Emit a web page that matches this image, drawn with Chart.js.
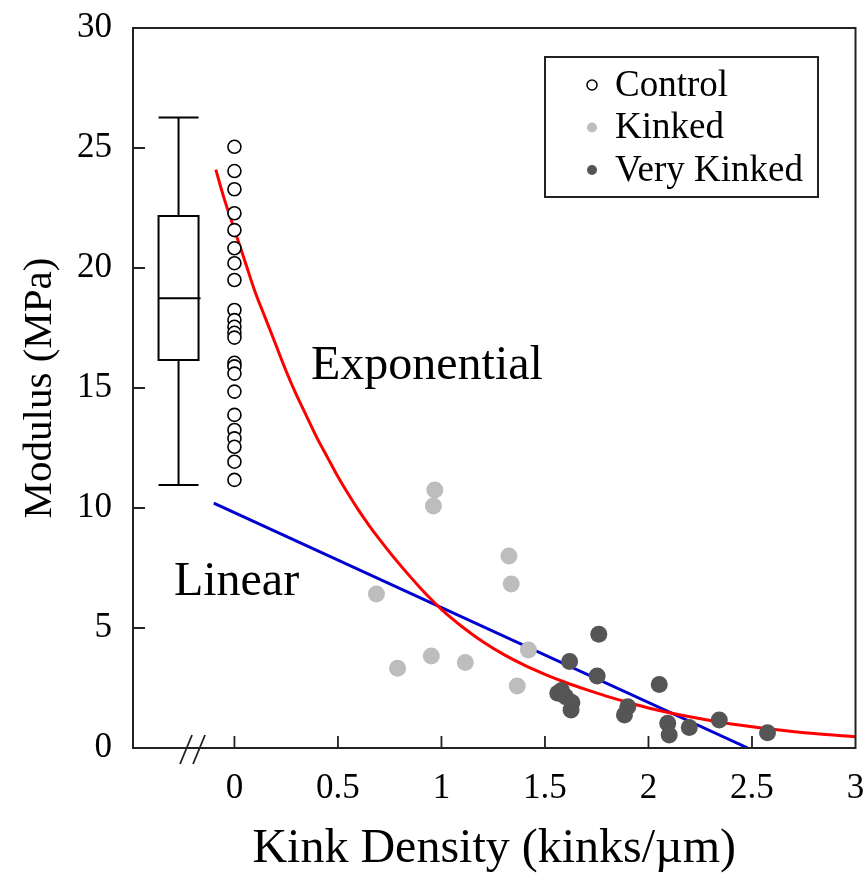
<!DOCTYPE html>
<html>
<head>
<meta charset="utf-8">
<script src="https://cdn.jsdelivr.net/npm/chart.js@4.4.1/dist/chart.umd.min.js"></script>
<style>
    html, body { margin: 0; padding: 0; background: #fff; }
    #wrap { width: 864px; height: 878px; }
</style>
</head>
<body>
<div id="wrap"><canvas id="modulusChart" width="864" height="878"></canvas></div>
<script>
// Data
const xTickValues = [0, 0.5, 1, 1.5, 2, 2.5, 3];
const yTickValues = [0, 5, 10, 15, 20, 25, 30];

const controlY = [25.05, 24.04, 23.28, 22.28, 21.58, 20.82, 20.2, 19.5, 18.25, 17.83,
    17.55, 17.3, 17.1, 16.05, 15.9, 15.6, 14.85, 13.88, 13.25, 12.9, 12.55, 11.93, 11.17];
const controlX = controlY.map(() => 0);

const kinkedX = [0.968, 0.961, 1.326, 1.337, 0.686, 0.951, 0.788, 1.115, 1.42, 1.366];
const kinkedY = [10.75, 10.08, 8.0, 6.83, 6.42, 3.83, 3.32, 3.56, 4.08, 2.58];

const veryKinkedX = [1.76, 1.619, 1.752, 2.052, 1.562, 1.60, 1.626, 1.90, 1.884, 2.342, 2.093, 2.10, 2.197, 2.575, 1.58, 1.63];
const veryKinkedY = [4.74, 3.6, 3.0, 2.65, 2.28, 2.14, 1.58, 1.72, 1.38, 1.17, 1.03, 0.54, 0.85, 0.64, 2.4, 1.9];

// box plot of the control group: [min, q1, median, q3, max]
const controlBox = [10.96, 16.17, 18.74, 22.17, 26.27];
const boxPosition = -0.27;

const expFitX = [-0.09, -0.05, 0, 0.05, 0.1, 0.15, 0.2, 0.25, 0.3, 0.35, 0.4, 0.45, 0.5, 0.55, 0.6, 0.65, 0.7, 0.75,
    0.8, 0.85, 0.9, 0.95, 1.0, 1.05, 1.1, 1.15, 1.2, 1.3, 1.4, 1.5, 1.6, 1.7, 1.8, 1.9, 2.0, 2.2, 2.4, 2.6, 2.8, 3.0];
const expFitY = [24.1, 22.9, 21.6, 20.3, 19.0, 17.9, 16.8, 15.7, 14.7, 13.8, 12.9, 12.1, 11.3, 10.58, 9.9, 9.28, 8.7, 8.15,
    7.63, 7.13, 6.65, 6.2, 5.78, 5.4, 5.05, 4.73, 4.43, 3.9, 3.45, 3.07, 2.73, 2.43, 2.15, 1.9, 1.67, 1.3, 1.0, 0.78, 0.6, 0.47];

const linFitX = [-0.1, 2.48];
const linFitY = [10.2, 0];

const serif = '"Liberation Serif", "Times New Roman", serif';

const pairs = (xs, ys) => xs.map((x, i) => ({ x, y: ys[i] }));

const datasets = [
    {
        label: 'Control',
        data: pairs(controlX, controlY),
        pointStyle: 'circle',
        pointRadius: 6.5,
        backgroundColor: '#ffffff',
        borderColor: '#000000',
        borderWidth: 1.6
    },
    {
        label: 'Kinked',
        data: pairs(kinkedX, kinkedY),
        pointStyle: 'circle',
        pointRadius: 8.5,
        backgroundColor: '#bdbdbd',
        borderColor: '#bdbdbd',
        borderWidth: 0
    },
    {
        label: 'Very Kinked',
        data: pairs(veryKinkedX, veryKinkedY),
        pointStyle: 'circle',
        pointRadius: 8.5,
        backgroundColor: '#555555',
        borderColor: '#555555',
        borderWidth: 0
    },
    {
        type: 'line',
        label: 'Exponential',
        data: pairs(expFitX, expFitY),
        borderColor: '#ff0000',
        borderWidth: 3,
        pointRadius: 0,
        cubicInterpolationMode: 'monotone',
        fill: false
    },
    {
        type: 'line',
        label: 'Linear',
        data: pairs(linFitX, linFitY),
        borderColor: '#0000d0',
        borderWidth: 3,
        pointRadius: 0,
        fill: false
    }
];

// frame, inward ticks, axis break, box plot, annotations and legend
const decorations = {
    id: 'decorations',
    beforeDatasetsDraw(chart) {
        const { ctx, scales: { x, y } } = chart;
        ctx.save();
        ctx.strokeStyle = '#000';
        ctx.lineWidth = 2;
        const cx = x.getPixelForValue(boxPosition);
        const halfW = 20;
        const [mn, q1, med, q3, mx] = controlBox.map(v => y.getPixelForValue(v));
        ctx.beginPath();
        ctx.rect(cx - halfW, q3, halfW * 2, q1 - q3);
        ctx.moveTo(cx - halfW, med); ctx.lineTo(cx + halfW + 2, med);
        ctx.moveTo(cx, q3); ctx.lineTo(cx, mx);
        ctx.moveTo(cx - halfW, mx); ctx.lineTo(cx + halfW, mx);
        ctx.moveTo(cx, q1); ctx.lineTo(cx, mn);
        ctx.moveTo(cx - halfW, mn); ctx.lineTo(cx + halfW, mn);
        ctx.stroke();

        ctx.font = '48px ' + serif;
        ctx.fillStyle = '#000';
        ctx.textAlign = 'center';
        ctx.textBaseline = 'middle';
        ctx.fillText('Exponential', x.getPixelForValue(0.93), y.getPixelForValue(15.9));
        ctx.fillText('Linear', x.getPixelForValue(0.01), y.getPixelForValue(6.9));
        ctx.restore();
    },
    afterDraw(chart) {
        const { ctx, chartArea: a, scales: { x, y } } = chart;
        ctx.save();
        ctx.strokeStyle = '#222';
        ctx.lineWidth = 2;
        ctx.strokeRect(a.left, a.top, a.right - a.left, a.bottom - a.top);

        ctx.lineWidth = 1.8;
        ctx.beginPath();
        xTickValues.forEach(v => {
            const px = x.getPixelForValue(v);
            if (px < a.right - 2) { ctx.moveTo(px, a.bottom); ctx.lineTo(px, a.bottom - 12); }
        });
        yTickValues.forEach(v => {
            const py = y.getPixelForValue(v);
            if (py > a.top + 2 && py < a.bottom - 2) { ctx.moveTo(a.left, py); ctx.lineTo(a.left + 12, py); }
        });
        ctx.stroke();

        // axis break marks
        const bx = x.getPixelForValue(-0.2);
        ctx.beginPath();
        [-7, 6].forEach(d => {
            ctx.moveTo(bx + d - 6, a.bottom + 16);
            ctx.lineTo(bx + d + 6, a.bottom - 13);
        });
        ctx.stroke();

        // legend
        const lx = 545, ly = 57, lw = 273, lh = 140;
        ctx.fillStyle = '#fff';
        ctx.fillRect(lx, ly, lw, lh);
        ctx.lineWidth = 2;
        ctx.strokeStyle = '#222';
        ctx.strokeRect(lx, ly, lw, lh);
        ctx.font = '37px ' + serif;
        ctx.textAlign = 'left';
        ctx.textBaseline = 'middle';
        chart.data.datasets.slice(0, 3).forEach((ds, i) => {
            const rowY = ly + 28 + i * 42.5;
            ctx.beginPath();
            ctx.arc(lx + 47, rowY, 5, 0, Math.PI * 2);
            ctx.fillStyle = ds.backgroundColor;
            ctx.fill();
            if (ds.borderWidth) {
                ctx.lineWidth = 1.5;
                ctx.strokeStyle = ds.borderColor;
                ctx.stroke();
            }
            ctx.fillStyle = '#000';
            ctx.fillText(ds.label, lx + 70, rowY + 1);
        });
        ctx.restore();
    }
};

new Chart(document.getElementById('modulusChart'), {
    type: 'scatter',
    data: { datasets },
    options: {
        responsive: false,
        animation: false,
        layout: { padding: { top: 28, right: 8, left: 0, bottom: 0 } },
        plugins: {
            legend: { display: false },
            tooltip: { enabled: false }
        },
        scales: {
            x: {
                type: 'linear',
                min: -0.49,
                max: 3,
                afterBuildTicks: scale => { scale.ticks = xTickValues.map(v => ({ value: v })); },
                afterFit: scale => {
                    scale.height = 130;
                    scale.paddingLeft = 0;
                    scale.paddingRight = 0;
                },
                grid: { display: false },
                border: { display: false },
                ticks: {
                    color: '#000',
                    padding: 12,
                    maxRotation: 0,
                    autoSkip: false,
                    font: { family: serif, size: 35 },
                    callback: v => String(v)
                },
                title: {
                    display: true,
                    text: 'Kink Density (kinks/\u00b5m)',
                    color: '#000',
                    font: { family: serif, size: 48, lineHeight: 1.2 },
                    padding: { top: 0, bottom: 0 }
                }
            },
            y: {
                type: 'linear',
                min: 0,
                max: 30,
                afterBuildTicks: scale => { scale.ticks = yTickValues.map(v => ({ value: v })); },
                afterFit: scale => {
                    scale.width = 133;
                    scale.paddingTop = 0;
                    scale.paddingBottom = 0;
                },
                grid: { display: false },
                border: { display: false },
                ticks: {
                    color: '#000',
                    padding: 13,
                    font: { family: serif, size: 35 }
                },
                title: {
                    display: true,
                    text: 'Modulus (MPa)',
                    color: '#000',
                    font: { family: serif, size: 41, lineHeight: 1.2 },
                    padding: { top: 16, bottom: 0 }
                }
            }
        }
    },
    plugins: [decorations]
});
</script>
</body>
</html>
